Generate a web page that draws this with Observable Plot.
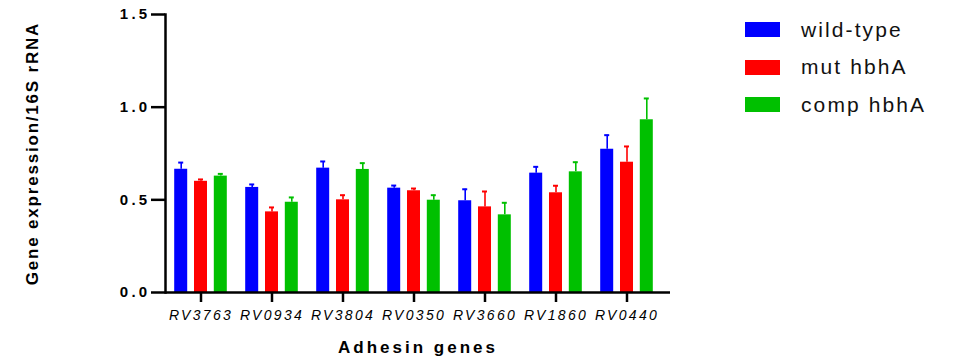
<!DOCTYPE html>
<html><head><meta charset="utf-8">
<script src="https://cdn.jsdelivr.net/npm/d3@7"></script>
<script src="https://cdn.jsdelivr.net/npm/@observablehq/plot@0.6"></script>
<style>
body{margin:0;background:#fff;}
#wrap{position:relative;width:954px;height:359px;}
#legend{position:absolute;left:745px;top:11px;font-family:"Liberation Sans",Arial,sans-serif;font-size:21px;letter-spacing:2.1px;color:#111;}
#legend .item{display:flex;align-items:center;height:37.5px;}
#legend .sw{width:35px;height:15px;margin-right:21px;}
svg g[aria-label="y-axis tick label"] text{font-weight:bold;font-size:15px;letter-spacing:3.3px;}
svg g[aria-label="x-axis tick label"] text{font-style:italic;font-size:14px;letter-spacing:2.3px;}
svg g[aria-label="x-axis label"] text{font-weight:bold;font-size:17px;letter-spacing:3px;}
svg g[aria-label="y-axis label"] text{font-weight:bold;font-size:17px;letter-spacing:1.8px;}
</style>
</head><body>
<div id="wrap"><div id="legend"></div></div>
<script>
const genes = ["RV3763","RV0934","RV3804","RV0350","RV3660","RV1860","RV0440"];
const seriesNames = ["wild-type","mut hbhA","comp hbhA"];
const seriesColors = ["#0000ff","#ff0000","#00c000"];
const wildType    = [0.665, 0.567, 0.671, 0.563, 0.495, 0.644, 0.773];
const wildTypeErr = [0.036, 0.016, 0.036, 0.014, 0.062, 0.034, 0.076];
const mutHbhA     = [0.600, 0.435, 0.500, 0.549, 0.462, 0.538, 0.703];
const mutHbhAErr  = [0.010, 0.024, 0.025, 0.012, 0.083, 0.038, 0.085];
const compHbhA    = [0.628, 0.487, 0.664, 0.498, 0.419, 0.651, 0.932];
const compHbhAErr = [0.012, 0.026, 0.034, 0.027, 0.065, 0.052, 0.115];
const yTicks = [0, 0.5, 1.0, 1.5];

const values = [wildType, mutHbhA, compHbhA];
const errs = [wildTypeErr, mutHbhAErr, compHbhAErr];
const tables = values.map((vals, s) => genes.map((g, i) => ({gene: g, series: seriesNames[s], value: vals[i], err: errs[s][i]})));

const marks = [];
tables.forEach((rows, s) => {
  const dx = (s - 1) * 19.8;
  const c = seriesColors[s];
  marks.push(Plot.barY(rows, {x: "gene", y: "value", fill: c, dx}));
  marks.push(Plot.ruleX(rows, {x: "gene", y1: "value", y2: d => d.value + d.err, stroke: c, strokeWidth: 1.6, dx}));
  marks.push(Plot.tickY(rows, {x: "gene", y: d => d.value + d.err, stroke: c, strokeWidth: 2, insetLeft: 4, insetRight: 4, dx}));
});

const chart = Plot.plot({
  width: 954,
  height: 359,
  marginLeft: 165,
  marginRight: 284,
  marginTop: 14,
  marginBottom: 67,
  style: {fontFamily: "'Liberation Sans', Arial, sans-serif", fontSize: "14px", color: "#000", background: "transparent"},
  x: {domain: genes, type: "band", paddingInner: 0.811, paddingOuter: 0.433, align: 0.44},
  y: {domain: [0, 1.5]},
  marks: [
    ...marks,
    Plot.frame({anchor: "left", stroke: "#000", strokeWidth: 2.5}),
    Plot.ruleY([0], {stroke: "#000", strokeWidth: 2.5}),
    Plot.axisY({ticks: yTicks, tickFormat: d3.format(".1f"), tickSize: 14, tickPadding: 1, strokeWidth: 2.5,
      label: "Gene expression/16S rRNA", labelAnchor: "center", labelArrow: "none", labelOffset: 140}),
    Plot.axisX({tickSize: 10, tickPadding: 8, strokeWidth: 2.5,
      label: "Adhesin genes", labelAnchor: "center", labelArrow: "none", labelOffset: 60})
  ]
});
document.getElementById("wrap").prepend(chart);

const legend = d3.select("#legend");
seriesNames.forEach((n, i) => {
  const it = legend.append("div").attr("class", "item");
  it.append("div").attr("class", "sw").style("background", seriesColors[i]);
  it.append("span").text(n);
});
</script>
</body></html>
